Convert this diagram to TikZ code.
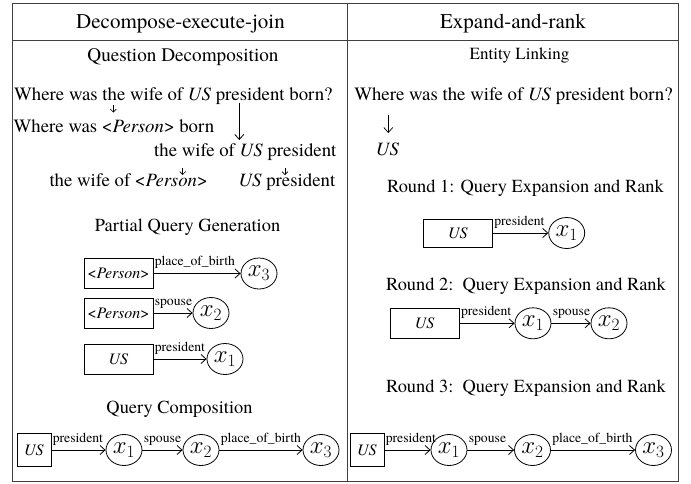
\documentclass[tikz,border=0pt]{standalone}
\usepackage{fontspec}
\setmainfont{TeX Gyre Termes}
\usetikzlibrary{arrows.meta,shapes.geometric}
\newcommand\fsz[1]{\fontsize{#1}{#1}\selectfont}
\tikzset{
  frame/.style={draw=black!75, line width=1pt},
  titletext/.style={font=\fsz{21}, anchor=base, inner sep=0pt},
  headtext/.style={font=\fsz{18.4}, anchor=base, inner sep=0pt},
  qtext/.style={font=\fsz{18.8}, inner sep=0pt},
  ent/.style={draw, line width=0.8pt, minimum width=69pt, minimum height=30pt, inner sep=0pt, font=\fsz{16}},
  entsmall/.style={ent, minimum width=34pt, minimum height=33pt},
  var/.style={draw, ellipse, line width=0.8pt, minimum width=36pt, minimum height=31pt, inner sep=0pt, font=\fsz{25}},
  rel/.style={-{Straight Barb[length=5pt,width=9pt]}, line width=0.8pt},
  lab/.style={font=\fsz{13.7}, pos=0, anchor=base west, yshift=8pt, xshift=1pt, inner sep=0pt},
  tinyarrow/.style={-{Straight Barb[length=3pt,width=6pt]}, line width=0.6pt},
  bigarrow/.style={-{Straight Barb[length=5pt,width=9pt]}, line width=0.8pt},
}
\begin{document}
\begin{tikzpicture}[x=1pt,y=-1pt]
\useasboundingbox (0,0) rectangle (691,483);
% frame
\draw[frame] (12,3) rectangle (678,481);
\draw[frame] (12,40) -- (678,40);
\draw[frame] (347,3) -- (347,481);
% titles
\node[titletext] (t1) at (180.5,28) {Decompose-execute-join};
\node[titletext] (t2) at (513,28) {Expand-and-rank};

% ---------- left column ----------
\node[headtext, font=\fsz{19.2}] (qd) at (183,61.7) {Question Decomposition};
\node[qtext, anchor=base west] (q1) at (14,100) {Where was the wife of \textit{US} president born?};
\node[qtext, anchor=base west] (q2) at (13.5,132.7) {Where was <\textit{Person}> born};
\node[qtext, anchor=base west] (q3) at (154,156) {the wife of \textit{US} president};
\node[qtext, anchor=base west] (q4) at (49.3,186.7) {the wife of <\textit{Person}>};
\node[qtext, anchor=base west] (q5) at (238.3,186.7) {\textit{US} president};
\coordinate (a1s) at (113.3,105);
\coordinate (a1e) at (113.3,112.5);
\coordinate (a2s) at (239.3,102.7);
\coordinate (a2e) at (239.3,140);
\coordinate (a3s) at (182.7,167.5);
\coordinate (a3e) at (182.7,175);
\coordinate (a4s) at (285,167.5);
\coordinate (a4e) at (285,175);
\draw[tinyarrow] (a1s) -- (a1e);
\draw[bigarrow] (a2s) -- (a2e);
\draw[tinyarrow] (a3s) -- (a3e);
\draw[tinyarrow] (a4s) -- (a4e);

\node[headtext] (pqg) at (187.5,231.7) {Partial Query Generation};
\node[ent] (p1) at (118.5,273.5) {<\textit{Person}>};
\node[var] (v3a) at (259,273.5) {$x_3$};
\draw[rel] (p1) -- (v3a) node[lab] {place\_of\_birth};
\node[ent] (p2) at (118.5,313) {<\textit{Person}>};
\node[var] (v2a) at (211,313) {$x_2$};
\draw[rel] (p2) -- (v2a) node[lab] {spouse};
\node[ent] (u1) at (118.5,359) {\textit{US}};
\node[var] (v1a) at (225,359) {$x_1$};
\draw[rel] (u1) -- (v1a) node[lab] {president};

\node[headtext] (qc) at (179.5,413) {Query Composition};
\node[entsmall] (u2) at (34,450) {\textit{US}};
\node[var] (v1b) at (124,450) {$x_1$};
\node[var] (v2b) at (201,450) {$x_2$};
\node[var] (v3b) at (321,450) {$x_3$};
\draw[rel] (u2) -- (v1b) node[lab] {president};
\draw[rel] (v1b) -- (v2b) node[lab] {spouse};
\draw[rel] (v2b) -- (v3b) node[lab] {place\_of\_birth};

% ---------- right column ----------
\node[headtext, font=\fsz{17}] (el) at (519.5,59.3) {Entity Linking};
\node[qtext, anchor=base] (rq) at (513.5,100) {Where was the wife of \textit{US} president born?};
\coordinate (r1s) at (388.3,115);
\coordinate (r1e) at (388.3,133);
\draw[bigarrow, line width=0.7pt] (r1s) -- (r1e);
\node[qtext, anchor=base] (rus) at (387.5,155) {\textit{US}};

\node[headtext] (r1) at (525.5,192.7) {Round 1: Query Expansion and Rank};
\node[ent, minimum height=28pt] (ru1) at (458,233) {\textit{US}};
\node[var] (rv1) at (566.7,233) {$x_1$};
\draw[rel] (ru1) -- (rv1) node[lab] {president};

\node[headtext] (r2) at (526,290.7) {Round 2:~~Query Expansion and Rank};
\node[ent] (ru2) at (424.7,323.3) {\textit{US}};
\node[var] (rv21) at (533,323.3) {$x_1$};
\node[var] (rv22) at (609,323.3) {$x_2$};
\draw[rel] (ru2) -- (rv21) node[lab] {president};
\draw[rel] (rv21) -- (rv22) node[lab] {spouse};

\node[headtext] (r3) at (526,392.7) {Round 3:~~Query Expansion and Rank};
\node[entsmall] (ru3) at (367,450) {\textit{US}};
\node[var] (rv31) at (449,450) {$x_1$};
\node[var] (rv32) at (532.5,450) {$x_2$};
\node[var] (rv33) at (653.5,450) {$x_3$};
\draw[rel] (ru3) -- (rv31) node[lab] {president};
\draw[rel] (rv31) -- (rv32) node[lab] {spouse};
\draw[rel] (rv32) -- (rv33) node[lab] {place\_of\_birth};
\end{tikzpicture}
\end{document}
